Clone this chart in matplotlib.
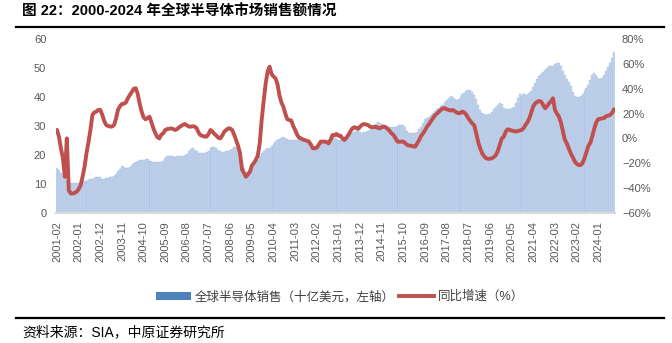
import numpy as np
import matplotlib
matplotlib.use("Agg")
import matplotlib.pyplot as plt
from matplotlib.lines import Line2D
from matplotlib.patches import Patch

plt.rcParams['font.family'] = ['Liberation Sans', 'Noto Sans CJK SC']
plt.rcParams['axes.unicode_minus'] = True

# monthly sales, 3MMA, billion USD (2001-02 .. 2024-09)
sales = [
    15.4, 14.7, 13.9, 13.1, 12.4, 10.8, 10.3, 10.2, 10.2, 10.2, 10.3,          # 2001
    10.4, 10.5, 10.8, 11.0, 11.1, 11.3, 11.5, 11.7, 12.0, 12.3, 12.5, 12.2,    # 2002
    11.8, 11.7, 11.9, 12.1, 12.2, 12.4, 12.8, 13.5, 14.3, 15.2, 16.0, 15.9,    # 2003
    15.6, 15.4, 15.9, 16.6, 17.2, 17.5, 17.8, 18.1, 18.3, 18.4, 18.5, 18.6,    # 2004
    18.0, 17.8, 17.7, 17.7, 17.6, 17.7, 17.7, 18.0, 18.8, 19.7, 19.6, 19.6,    # 2005
    19.5, 19.4, 19.5, 19.6, 19.6, 19.7, 20.0, 20.4, 21.2, 22.0, 22.4, 21.8,    # 2006
    21.4, 20.5, 20.5, 20.6, 20.8, 21.0, 21.5, 22.3, 22.9, 22.9, 22.5, 21.8,    # 2007
    21.3, 21.1, 21.1, 21.2, 21.3, 21.6, 22.2, 22.6, 22.9, 22.2, 20.1, 17.6,    # 2008
    15.4, 14.2, 14.0, 14.4, 15.2, 16.2, 17.3, 18.4, 19.5, 20.5, 21.4, 22.2,    # 2009
    22.3, 22.4, 23.0, 23.8, 24.6, 25.2, 25.5, 25.8, 26.2, 26.0, 25.6, 25.3,    # 2010
    25.2, 25.1, 25.0, 25.0, 25.1, 25.0, 24.9, 24.8, 24.6, 24.1, 23.3, 22.9,    # 2011
    22.8, 22.9, 23.5, 24.3, 24.7, 24.8, 24.7, 24.8, 25.3, 25.8, 26.0, 25.6,    # 2012
    25.0, 25.2, 25.5, 25.9, 26.4, 26.8, 27.1, 27.5, 27.9, 28.1, 28.2, 27.9,    # 2013
    27.6, 27.8, 28.0, 28.1, 28.5, 29.2, 30.0, 30.8, 31.5, 31.2, 30.8, 30.3,    # 2014
    29.9, 29.7, 29.6, 29.6, 29.6, 29.7, 29.9, 30.2, 30.3, 30.2, 29.6, 28.3,    # 2015
    27.7, 27.5, 27.5, 27.6, 28.0, 28.9, 29.8, 31.0, 32.3, 32.8, 33.2, 33.8,    # 2016
    34.5, 35.2, 35.8, 36.4, 36.9, 37.4, 38.2, 39.1, 39.8, 40.3, 39.9, 39.2,    # 2017
    39.1, 39.3, 40.2, 40.9, 41.5, 42.0, 42.6, 42.4, 41.6, 40.6, 39.2, 37.3,    # 2018
    35.6, 34.5, 34.0, 33.8, 34.0, 34.3, 35.0, 35.8, 36.6, 37.4, 38.0, 37.5,    # 2019
    36.4, 36.0, 36.0, 35.9, 36.2, 36.6, 37.8, 39.7, 40.9, 40.5, 40.9, 41.2,    # 2020
    40.6, 41.3, 42.2, 43.6, 45.0, 46.3, 47.3, 48.1, 48.8, 49.4, 50.0, 50.6,    # 2021
    50.8, 50.9, 51.4, 51.9, 51.7, 50.6, 49.0, 47.5, 46.2, 45.3, 43.9, 41.6,    # 2022
    40.5, 40.1, 40.0, 40.3, 41.0, 42.0, 43.1, 44.2, 46.0, 47.8, 48.4, 47.6,    # 2023
    46.6, 46.1, 46.6, 47.5, 49.1, 50.4, 51.9, 53.5, 55.5,                      # 2024
]

# year-on-year growth, %
growth = [
    6.8, 1.4, -8, -16, -31, 0, -42, -44.5, -44.5, -44, -43,                    # 2001
    -41, -38, -31, -23, -12, -3, 7, 19, 21, 21.6, 23, 23,                      # 2002
    19, 14, 10.8, 10, 9.5, 9.6, 10.8, 16, 23, 26, 27.8, 28,                    # 2003
    29, 32.4, 35, 37.5, 40, 40.5, 36, 28, 21.6, 17, 15.4, 16.5,                # 2004
    17.5, 13, 8, 4.1, 1, 0, 3, 4.1, 6.8, 7.5, 7.8, 8.1,                        # 2005
    7.5, 6.8, 7.5, 8.9, 10, 11, 11.6, 10.5, 9.5, 9.5, 9.8, 9.5,                # 2006
    8.1, 4.5, 2.5, 2, 1.5, 1.4, 3.5, 6.8, 5.5, 3.5, 2.2, 0.5,                  # 2007
    0, 2.5, 5.4, 6.8, 8.1, 8.0, 6.8, 3, -1.3, -6, -12, -25,                    # 2008
    -28, -31, -29, -27, -22, -20, -17.5, -14, -4, 15, 30, 44,                  # 2009
    54, 57.9, 52, 50, 48.5, 44, 35, 29, 25.6, 20, 15.5, 14.8,                  # 2010
    14.5, 10, 6.8, 3, 0.5, 0, -1, -1.3, -2, -2.6, -5, -8,                      # 2011
    -8, -7.5, -5, -2.6, -2.6, -2.6, -3, -4, -1, 2.7, 2.5, 3.6,                 # 2012
    2.2, 2.2, 0, -1.3, 0.5, 2.7, 5.5, 8, 9, 8.5, 7.6, 9.5,                     # 2013
    11, 11.6, 11.2, 10.8, 9.5, 9, 9.2, 9.5, 8.5, 8.1, 9, 9.5,                  # 2014
    9, 7.6, 6, 4, 2.7, 0, -2.6, -2.8, -2.6, -2.6, -4, -5.4,                    # 2015
    -5.8, -6, -6.5, -6.7, -4, -1.3, 2, 4.1, 6.5, 9.5, 11.5, 14,                # 2016
    16.2, 18.5, 20, 21.6, 23, 24.3, 24.3, 23.5, 23, 22.5, 23, 22,              # 2017
    21, 20.3, 20.5, 21.6, 20.8, 19, 16.2, 14, 12, 10.5, 4, -3,                 # 2018
    -8, -12, -14.5, -16, -16.5, -16.5, -16, -15, -13.4, -10, -5, 0,            # 2019
    1.4, 5.5, 7.3, 7, 6.2, 6, 5.6, 5.8, 6.3, 6.8, 8, 10.8,                     # 2020
    13, 16.2, 21, 26, 28.3, 29.5, 30.2, 29.5, 27, 24.3, 26, 28.3,              # 2021
    30, 32.4, 23, 20, 17.5, 13, 6, -1, -4, -8, -12, -15,                       # 2022
    -18.5, -20.5, -21.5, -21.5, -20, -16, -11, -6, -3.5, 2, 8, 13,             # 2023
    15.5, 15.8, 16.2, 16.5, 18, 18.3, 18.9, 20.5, 23.5,                        # 2024
]

tick_labels = ["2001-02", "2002-01", "2002-12", "2003-11", "2004-10", "2005-09",
               "2006-08", "2007-07", "2008-06", "2009-05", "2010-04", "2011-03",
               "2012-02", "2013-01", "2013-12", "2014-11", "2015-10", "2016-09",
               "2017-08", "2018-07", "2019-06", "2020-05", "2021-04", "2022-03",
               "2023-02", "2024-01"]

title = "图 22：2000-2024 年全球半导体市场销售额情况"
source = "资料来源：SIA，中原证券研究所"
bar_name = "全球半导体销售（十亿美元，左轴）"
line_name = "同比增速（%）"

W, H = 672, 343
fig = plt.figure(figsize=(W / 100, H / 100), dpi=100)
ax = fig.add_axes([56 / W, 1 - 212.7 / H, (615 - 56) / W, (212.7 - 39.3) / H])

x = np.arange(len(sales))
ax.bar(x, sales, width=1.0, color="#c6d6eb", edgecolor="#8fb0de", linewidth=0.2)
ax.set_xlim(-0.5, len(sales) - 0.5)
ax.set_ylim(0, 60)
ax.set_yticks(range(0, 61, 10))
ax.set_xticks(x[::11])
ax.set_xticklabels(tick_labels, rotation=90)
ax.tick_params(axis="both", length=0, labelsize=8, colors="#595959")
ax.tick_params(axis="y", pad=7)
ax.tick_params(axis="x", pad=6)
for s in ["top", "right", "left"]:
    ax.spines[s].set_visible(False)
ax.spines["bottom"].set_color("#d9d9d9")
ax.spines["bottom"].set_linewidth(1.5)

ax2 = ax.twinx()
ax2.plot(x, growth, color="#c0504d", linewidth=2.8, solid_capstyle="round")
ax2.set_ylim(-60, 80)
ax2.set_yticks(range(-60, 81, 20))
ax2.set_yticklabels([f"{v}%".replace("-", "\u2212") for v in range(-60, 81, 20)])
ax2.tick_params(axis="y", length=0, labelsize=8, colors="#595959", pad=5)
for s in ax2.spines.values():
    s.set_visible(False)

handles = [Patch(facecolor="#4f81bd", edgecolor="none"),
           Line2D([], [], color="#c0504d", linewidth=2.8)]
fig.legend(handles, [bar_name, line_name], loc="center", ncol=2,
           bbox_to_anchor=(340 / W, 1 - 297 / H), frameon=False,
           fontsize=9, labelcolor="#404040", handlelength=2.8, handleheight=0.6,
           handletextpad=0.3, columnspacing=0.3)

fig.text(22 / W, 1 - 12 / H, title, fontsize=10.5, fontweight="bold", va="center", ha="left")
fig.add_artist(Line2D([16 / W, 664 / W], [1 - 26.5 / H, 1 - 26.5 / H], color="black", linewidth=1.6))
fig.add_artist(Line2D([16 / W, 664 / W], [1 - 318 / H, 1 - 318 / H], color="black", linewidth=1.6))
fig.text(22 / W, 1 - 332 / H, source, fontsize=10, va="center", ha="left")

fig.savefig("out.png", dpi=100)
